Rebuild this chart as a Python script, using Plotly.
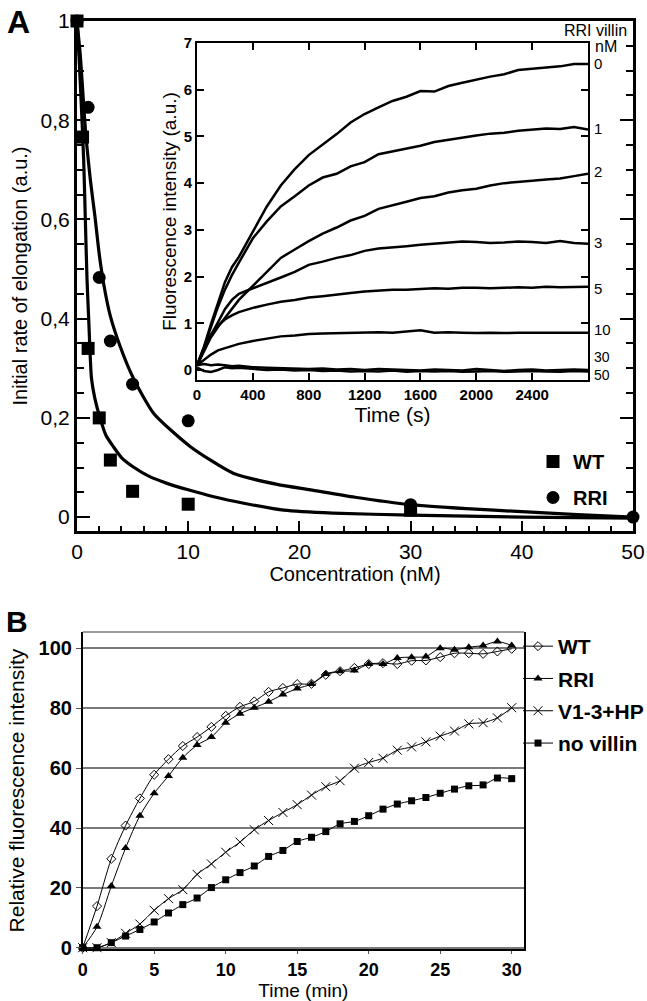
import plotly.graph_objects as go

FONT = "Arial, 'Liberation Sans', sans-serif"
W, H = 647, 1001

# ---------------- Panel A: initial rates ----------------
wt_conc = [0, 0.5, 1, 2, 3, 5, 10, 30]
wt_rate = [1.0, 0.766, 0.34, 0.2, 0.115, 0.052, 0.026, 0.014]
rri_conc = [0, 1, 2, 3, 5, 10, 30, 50]
rri_rate = [1.0, 0.826, 0.483, 0.355, 0.268, 0.194, 0.025, 0.0]

wt_fit_x = [0, 0.2, 0.45, 0.6, 0.75, 0.9, 1.05, 1.3, 1.6, 2.07, 2.6, 3.27, 4.0, 5.07,
            6.5, 8.1, 10, 12.3, 15, 18.6, 23, 30, 40, 50]
wt_fit_y = [1.0, 0.92, 0.8, 0.72, 0.6, 0.48, 0.4, 0.28, 0.24, 0.2, 0.165, 0.142, 0.12, 0.101,
            0.082, 0.068, 0.055, 0.041, 0.028, 0.014, 0.008, 0.004, 0.0, -0.002]
rri_fit_x = [0, 0.3, 0.6, 0.81, 1.2, 1.62, 2.0, 2.4, 3.0, 3.9, 5.07, 6.9, 10.2, 14.1,
             18, 21, 25, 30, 35, 40, 45, 50]
rri_fit_y = [1.0, 0.93, 0.83, 0.766, 0.68, 0.605, 0.53, 0.47, 0.405, 0.343, 0.28, 0.209,
             0.142, 0.088, 0.066, 0.055, 0.04, 0.025, 0.017, 0.011, 0.005, 0.0]

# ---------------- Inset: fluorescence traces ----------------
inset_t = [0, 50, 100, 150, 200, 250, 300, 400, 500, 600, 700, 800, 900, 1000, 1100, 1200,
           1300, 1400, 1500, 1600, 1700, 1800, 1900, 2000, 2100, 2200, 2300, 2400, 2500,
           2600, 2700, 2800]
trace_0 = [0.1, 0.5, 0.98, 1.45, 1.88, 2.2, 2.42, 2.96, 3.5, 3.95, 4.3, 4.6, 4.82, 5.05, 5.3,
           5.48, 5.62, 5.76, 5.85, 5.97, 5.96, 6.08, 6.15, 6.22, 6.28, 6.33, 6.42, 6.45, 6.48,
           6.5, 6.55, 6.55]
trace_1 = [0.1, 0.48, 0.92, 1.35, 1.72, 2.03, 2.3, 2.82, 3.18, 3.5, 3.72, 3.95, 4.12, 4.2,
           4.36, 4.45, 4.62, 4.68, 4.75, 4.8, 4.88, 4.93, 4.98, 5.02, 5.06, 5.08, 5.12, 5.15,
           5.17, 5.16, 5.2, 5.15]
trace_2 = [0.1, 0.4, 0.7, 0.92, 1.12, 1.32, 1.5, 1.8, 2.1, 2.4, 2.58, 2.76, 2.92, 3.05, 3.2,
           3.3, 3.45, 3.52, 3.6, 3.68, 3.72, 3.8, 3.85, 3.88, 3.95, 4.0, 4.02, 4.05, 4.08, 4.1,
           4.15, 4.2]
trace_3 = [0.1, 0.42, 0.75, 1.02, 1.3, 1.5, 1.63, 1.75, 1.86, 1.98, 2.1, 2.25, 2.32, 2.4, 2.46,
           2.55, 2.6, 2.62, 2.65, 2.68, 2.7, 2.72, 2.75, 2.74, 2.72, 2.73, 2.75, 2.74, 2.72,
           2.76, 2.72, 2.7]
trace_5 = [0.1, 0.45, 0.75, 0.95, 1.08, 1.17, 1.24, 1.33, 1.4, 1.46, 1.5, 1.55, 1.58, 1.62,
           1.65, 1.68, 1.7, 1.72, 1.72, 1.74, 1.75, 1.74, 1.76, 1.76, 1.75, 1.76, 1.77, 1.76,
           1.78, 1.77, 1.78, 1.78]
trace_10 = [0.1, 0.22, 0.33, 0.42, 0.47, 0.52, 0.56, 0.62, 0.67, 0.72, 0.74, 0.77, 0.78, 0.79,
            0.8, 0.8, 0.81, 0.8, 0.82, 0.85, 0.8, 0.81, 0.8, 0.79, 0.8, 0.79, 0.8, 0.8, 0.79,
            0.8, 0.79, 0.8]
trace_30 = [0.1, 0.13, 0.1, 0.12, 0.1, 0.08, 0.09, 0.06, 0.05, 0.04, 0.03, 0.02, 0.03, 0.01,
            0.02, 0.0, 0.02, 0.01, 0.0, -0.01, 0.01, 0.0, -0.01, 0.02, 0.0, -0.02, 0.0, 0.01,
            -0.01, 0.0, 0.01, 0.0]
trace_50 = [0.05, -0.02, -0.04, 0.0, 0.06, 0.04, 0.05, 0.02, 0.0, 0.01, -0.01, 0.0, -0.02,
            -0.01, -0.03, -0.02, -0.03, -0.01, -0.04, -0.02, -0.03, -0.02, -0.04, -0.03, -0.02,
            -0.04, -0.03, -0.02, -0.03, -0.04, -0.02, -0.03]
inset_traces = [trace_0, trace_1, trace_2, trace_3, trace_5, trace_10, trace_30, trace_50]
inset_labels = ["0", "1", "2", "3", "5", "10", "30", "50"]
inset_label_y = [6.57, 5.18, 4.24, 2.74, 1.75, 0.86, 0.27, -0.1]

# ---------------- Panel B: time courses ----------------
time_min = list(range(31))
b_wt = [0, 13.9, 29.7, 40.8, 49.9, 57.8, 63.0, 67.4, 70.4, 73.8, 77.5, 80.5, 82.3, 85.5, 86.8,
        88.1, 88.2, 91.2, 92.4, 93.5, 94.8, 95.1, 94.8, 95.9, 96.0, 97.1, 98.4, 98.4, 98.2,
        99.0, 99.9]
b_rri = [0, 7.0, 20.6, 33.3, 44.1, 51.6, 57.4, 63.5, 67.7, 70.4, 75.2, 78.2, 80.2, 82.2, 84.6,
         86.6, 88.1, 91.5, 92.4, 92.6, 94.8, 94.8, 96.8, 97.1, 97.3, 100.1, 99.6, 100.4, 101.0,
         102.3, 101.0]
b_v13hp = [0, 0.0, 1.7, 4.8, 7.9, 12.5, 16.4, 19.4, 24.5, 28.0, 31.9, 35.3, 39.4, 42.5, 45.2,
           47.8, 51.0, 53.8, 55.8, 60.0, 61.9, 63.3, 66.0, 67.1, 68.8, 70.7, 72.4, 74.8, 75.2,
           76.8, 80.2]
b_novillin = [0, 0.0, 1.7, 3.9, 6.1, 8.6, 11.6, 14.4, 16.6, 20.1, 22.7, 25.1, 27.3, 30.5, 32.5,
              35.5, 36.9, 38.8, 41.4, 42.2, 44.1, 46.3, 48.0, 49.1, 50.2, 51.6, 53.0, 54.1,
              54.4, 56.7, 56.5]

a_yticks = [0, 0.2, 0.4, 0.6, 0.8, 1.0]
a_yticktext = ["0", "0,2", "0,4", "0,6", "0,8", "1"]
inset_xticks = [0, 400, 800, 1200, 1600, 2000, 2400]
inset_yticks = [0, 1, 2, 3, 4, 5, 6, 7]


def px_x(p):
    return p / W


def px_y(p):
    return 1 - p / H


fig = go.Figure()

# Panel A fits
for fx, fy in ((wt_fit_x, wt_fit_y), (rri_fit_x, rri_fit_y)):
    fig.add_trace(go.Scatter(x=fx, y=fy, mode="lines", xaxis="x", yaxis="y",
                             line=dict(color="black", width=3.2, shape="spline", smoothing=0.6),
                             showlegend=False, hoverinfo="skip"))
fig.add_trace(go.Scatter(x=rri_conc, y=rri_rate, mode="markers", name="RRI", xaxis="x",
                         yaxis="y", marker=dict(symbol="circle", size=13, color="black"),
                         cliponaxis=False, legend="legend", legendgroup="a2", legendrank=2))
fig.add_trace(go.Scatter(x=wt_conc, y=wt_rate, mode="markers", name="WT", xaxis="x",
                         yaxis="y", marker=dict(symbol="square", size=13, color="black"),
                         cliponaxis=False, legend="legend", legendgroup="a1", legendrank=1))

# Inset traces
for tr in inset_traces:
    fig.add_trace(go.Scatter(x=inset_t, y=tr, mode="lines", xaxis="x2", yaxis="y2",
                             line=dict(color="black", width=2.5), showlegend=False,
                             hoverinfo="skip"))

# Panel B
b_series = [
    ("WT", b_wt, dict(symbol="diamond-open", size=7, color="black", line=dict(width=1))),
    ("RRI", b_rri, dict(symbol="triangle-up", size=8, color="black")),
    ("V1-3+HP", b_v13hp, dict(symbol="x-thin-open", size=9, color="black",
                              line=dict(width=1, color="black"))),
    ("no villin", b_novillin, dict(symbol="square", size=7, color="black")),
]
for i, (name, ys, mk) in enumerate(b_series):
    fig.add_trace(go.Scatter(x=time_min, y=ys, mode="lines+markers", name=name,
                             xaxis="x3", yaxis="y3",
                             line=dict(color="black", width=1, shape="spline", smoothing=0.8),
                             marker=mk, cliponaxis=False, legend="legend2",
                             legendgroup="b%d" % i))

ann = []
for lab, yv in zip(inset_labels, inset_label_y):
    ann.append(dict(x=2800, y=yv, xref="x2", yref="y2", text=lab, showarrow=False,
                    xanchor="left", xshift=4,
                    font=dict(family=FONT, size=15 if lab not in ("30", "50") else 14,
                              color="black")))
ann.append(dict(x=px_x(629), y=px_y(31), xref="paper", yref="paper", text="RRI villin",
                showarrow=False, xanchor="right", yanchor="middle",
                font=dict(family=FONT, size=16, color="black")))
ann.append(dict(x=px_x(593), y=px_y(47), xref="paper", yref="paper", text="nM",
                showarrow=False, xanchor="left", yanchor="middle",
                font=dict(family=FONT, size=16, color="black")))
ann.append(dict(x=px_x(5), y=px_y(22), xref="paper", yref="paper", text="<b>A</b>",
                showarrow=False, xanchor="left", yanchor="middle",
                font=dict(family=FONT, size=32, color="black")))
ann.append(dict(x=px_x(4), y=px_y(621), xref="paper", yref="paper", text="<b>B</b>",
                showarrow=False, xanchor="left", yanchor="middle",
                font=dict(family=FONT, size=30, color="black")))

tick_a = dict(family=FONT, size=21, color="black")
title_a = dict(family=FONT, size=20, color="black")
bold_tick = dict(family=FONT, size=20, color="black", weight="bold")
inset_tick = dict(family=FONT, size=15, color="black", weight="bold")

fig.update_layout(
    width=W, height=H, margin=dict(l=0, r=0, t=0, b=0, autoexpand=False),
    paper_bgcolor="white", plot_bgcolor="white",
    font=dict(family=FONT, color="black"),
    annotations=ann,
    xaxis=dict(domain=[px_x(77), px_x(633)], range=[0, 50], anchor="y", automargin=False,
               showline=True, linecolor="black", linewidth=3, mirror=True,
               ticks="inside", ticklen=10, tickwidth=2, tickcolor="black",
               tickvals=[0, 10, 20, 30, 40, 50], tickfont=tick_a,
               minor=dict(tickmode="linear", tick0=0, dtick=2, ticks="inside", ticklen=5,
                          tickwidth=2, tickcolor="black"),
               showgrid=False, zeroline=False,
               title=dict(text="Concentration (nM)", font=title_a, standoff=5)),
    yaxis=dict(domain=[px_y(531), px_y(21)], range=[-0.028, 1.0], anchor="x", automargin=False,
               showline=True, linecolor="black", linewidth=3, mirror="ticks",
               ticks="inside", ticklen=13, tickwidth=2, tickcolor="black",
               tickvals=a_yticks, ticktext=a_yticktext, tickfont=tick_a,
               minor=dict(tickmode="linear", tick0=0, dtick=0.05, ticks="inside", ticklen=7,
                          tickwidth=2, tickcolor="black"),
               showgrid=False, zeroline=False,
               title=dict(text="Initial rate of elongation (a.u.)", font=title_a, standoff=8)),
    xaxis2=dict(domain=[px_x(197), px_x(588)], range=[0, 2800], anchor="y2", automargin=False,
                showline=True, linecolor="black", linewidth=2, mirror="ticks",
                ticks="inside", ticklen=7, tickwidth=1.5, tickcolor="black",
                tickvals=inset_xticks, tickfont=inset_tick,
                showgrid=False, zeroline=False,
                title=dict(text="Time (s)", font=dict(family=FONT, size=21, color="black"),
                           standoff=0)),
    yaxis2=dict(domain=[px_y(380), px_y(43)], range=[-0.214, 7.0], anchor="x2", automargin=False,
                showline=True, linecolor="black", linewidth=2, mirror="ticks",
                ticks="inside", ticklen=7, tickwidth=1.5, tickcolor="black",
                tickvals=inset_yticks, tickfont=inset_tick,
                showgrid=False, zeroline=False,
                title=dict(text="Fluorescence intensity (a.u.)",
                           font=dict(family=FONT, size=19, color="black"), standoff=2)),
    xaxis3=dict(domain=[px_x(82.7), px_x(524)], range=[0, 30.86], anchor="y3", automargin=False,
                showline=True, linecolor="black", linewidth=1.5, mirror=False,
                ticks="outside", ticklen=3, tickwidth=1, tickcolor="#555",
                tickvals=[0, 5, 10, 15, 20, 25, 30],
                tickfont=dict(family=FONT, size=18, color="black", weight="bold"),
                showgrid=False, zeroline=False,
                title=dict(text="Time (min)", font=dict(family=FONT, size=19, color="black"),
                           standoff=4)),
    yaxis3=dict(domain=[px_y(949.2), px_y(632)], range=[-0.5, 105.5], anchor="x3", automargin=False,
                showline=True, linecolor="black", linewidth=1.5, mirror=True,
                ticks="outside", ticklen=5, tickwidth=1, tickcolor="#555",
                tickvals=[0, 20, 40, 60, 80, 100], tickfont=bold_tick,
                showgrid=True, gridcolor="#7a7a7a", gridwidth=1.5, zeroline=False,
                title=dict(text="Relative fluorescence intensity",
                           font=dict(family=FONT, size=21, color="black"), standoff=8)),
    legend=dict(x=px_x(533), y=px_y(442), xanchor="left", yanchor="top",
                bgcolor="rgba(0,0,0,0)",
                font=dict(family=FONT, size=20, color="black", weight="bold"),
                itemwidth=30, tracegroupgap=7, traceorder="grouped"),
    legend2=dict(x=px_x(518), y=px_y(626), xanchor="left", yanchor="top",
                 bgcolor="rgba(0,0,0,0)",
                 font=dict(family=FONT, size=21, color="black", weight="bold"),
                 itemwidth=30, tracegroupgap=2, traceorder="grouped"),
    shapes=[dict(type="line", xref="x3 domain", yref="y3 domain", x0=0, x1=1, y0=1, y1=1,
                 line=dict(color="#7a7a7a", width=1.5))],
)

fig.write_html("out.html", config={"displayModeBar": False},
               post_script="document.body.style.margin='0px';document.body.style.overflow='hidden';")
